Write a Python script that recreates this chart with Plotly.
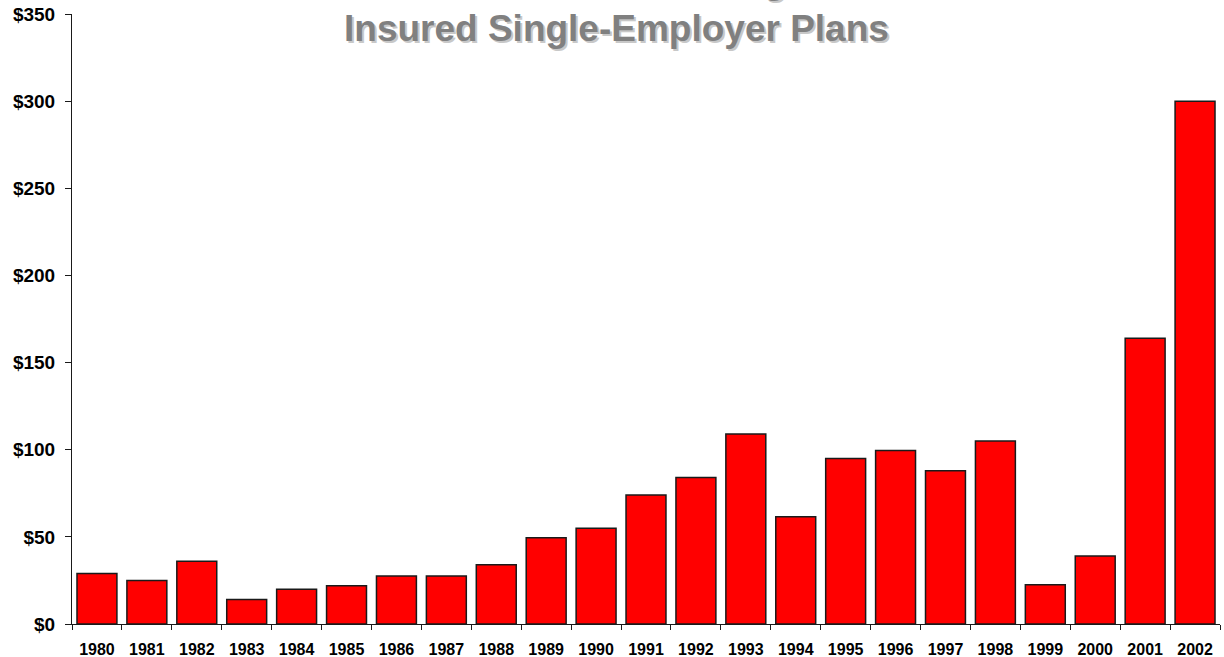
import plotly.graph_objects as go

years = ["1980", "1981", "1982", "1983", "1984", "1985", "1986", "1987", "1988", "1989",
         "1990", "1991", "1992", "1993", "1994", "1995", "1996", "1997", "1998", "1999",
         "2000", "2001", "2002"]
underfunding = [29, 25, 36, 14, 20, 22, 27.5, 27.5, 34, 49.5,
                55, 74, 84, 109, 61.5, 95, 99.5, 88, 105, 22.5,
                39, 164, 300]
y_ticks = [0, 50, 100, 150, 200, 250, 300, 350]
y_tick_labels = ["$" + str(v) for v in y_ticks]
title_lines = ["Total Underfunding", "Insured Single-Employer Plans"]

FONT = "Liberation Sans, Arial, sans-serif"

fig = go.Figure()
fig.add_trace(go.Bar(
    x=years, y=underfunding,
    marker=dict(color="#FF0000", line=dict(color="#1a1a1a", width=1.5)),
))

title_text = "<br>".join(title_lines)
for dx, dy, col in [(2, -2, "#c8c8c8"), (0, 0, "#808080")]:
    fig.add_annotation(
        text=title_text, xref="paper", yref="paper", x=0.474, y=0.9395,
        xanchor="center", yanchor="bottom", showarrow=False,
        xshift=dx, yshift=dy,
        font=dict(family=FONT, size=37, color=col, weight="bold"),
    )

fig.update_layout(
    width=1224, height=657,
    margin=dict(l=72, r=4, t=14, b=33, autoexpand=False),
    paper_bgcolor="white", plot_bgcolor="white",
    bargap=0.2, showlegend=False,
)
fig.update_xaxes(
    type="category", showline=True, linecolor="#1a1a1a", linewidth=1,
    ticks="outside", tickson="boundaries", ticklen=5, tickcolor="#1a1a1a",
    showgrid=False, ticklabelstandoff=11, automargin=False,
    tickfont=dict(family=FONT, size=16, color="black", weight="bold"),
)
fig.update_yaxes(
    range=[0, 350], tickvals=y_ticks, ticktext=y_tick_labels,
    showline=True, linecolor="#1a1a1a", linewidth=1,
    ticks="outside", ticklen=6, tickcolor="#1a1a1a",
    showgrid=False, zeroline=False, ticklabelstandoff=6, automargin=False,
    tickfont=dict(family=FONT, size=19, color="black", weight="bold"),
)

fig.write_html("out.html")
